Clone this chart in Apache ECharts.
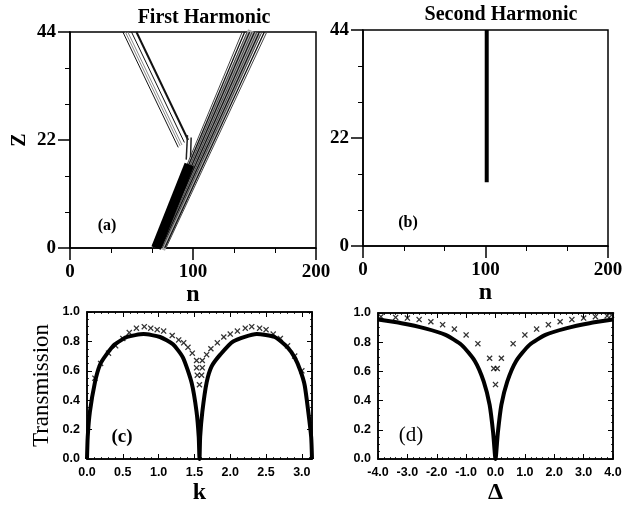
<!DOCTYPE html>
<html>
<head>
<meta charset="utf-8">
<script src="https://cdn.jsdelivr.net/npm/echarts@6/dist/echarts.min.js"></script>
<style>
  html, body { margin: 0; padding: 0; background: #fff; }
  #main { width: 637px; height: 506px; }
</style>
</head>
<body>
<div id="main"></div>
<script>
// (a) first harmonic: contour lines, [n, z] end points
var coreBeam = [[70, 0], [97, 17]];
var rightBeamBand = [[72, 0], [150, 44]];
var rightBeamLines = [
    [[67, 0], [140, 44]],
    [[68, 0], [142, 44]],
    [[69, 0], [144, 44]],
    [[70, 0], [146, 44]],
    [[71, 0], [148, 44]],
    [[72, 0], [150, 44]],
    [[73, 0], [152, 44]],
    [[74, 0], [154, 44]],
    [[75, 0], [156, 44]],
    [[77, 0], [158, 44]],
    [[78, 0], [160, 44]]
];
var leftBeamLines = [
    [[43, 44], [88, 20.5]],
    [[45, 44], [89.5, 20.8]],
    [[47, 44], [91, 21]],
    [[50, 44], [93, 21.5]],
    [[54, 44], [96, 22]]
];
var crossBits = [
    [[94.5, 18], [95.5, 23]],
    [[98, 18.5], [98.5, 22.5]]
];

// (b) second harmonic
var secondBeam = [[101, 13], [101, 44]];

// (c) transmission vs k
var kCurve = [0, 0.01, 0.04, 0.11, 0.18, 0.27, 0.39, 0.56, 0.79, 1.02, 1.20, 1.34, 1.46, 1.53, 1.56, 1.5708,
    1.58, 1.61, 1.67, 1.74, 1.86, 2.04, 2.37, 2.62, 2.80, 2.90, 2.98, 3.04, 3.09, 3.13, 3.1416];
var tCurveK = [0, 0.15, 0.32, 0.52, 0.64, 0.71, 0.78, 0.83, 0.85, 0.83, 0.78, 0.69, 0.52, 0.32, 0.15, 0,
    0.15, 0.32, 0.52, 0.63, 0.71, 0.80, 0.85, 0.83, 0.76, 0.69, 0.60, 0.50, 0.32, 0.15, 0];
var kCross = [0.11, 0.19, 0.30, 0.40, 0.50, 0.59, 0.69, 0.80, 0.89, 0.98, 1.07, 1.19, 1.28, 1.35, 1.41, 1.47,
    1.53, 1.53, 1.54, 1.57, 1.61, 1.61, 1.60, 1.67, 1.73, 1.82, 1.91, 2.00, 2.10, 2.21, 2.30, 2.41, 2.50,
    2.60, 2.70, 2.80, 2.90, 3.00];
var tCrossK = [0.55, 0.65, 0.72, 0.77, 0.82, 0.86, 0.89, 0.90, 0.89, 0.88, 0.87, 0.84, 0.81, 0.79, 0.76, 0.72,
    0.67, 0.62, 0.57, 0.505, 0.67, 0.62, 0.57, 0.71, 0.75, 0.79, 0.83, 0.85, 0.87, 0.89, 0.90, 0.89, 0.88,
    0.85, 0.82, 0.77, 0.70, 0.60];

// (d) transmission vs delta
var dCurve = [-4, -3.2, -2.4, -1.7, -1.15, -0.7, -0.4, -0.2, -0.08, 0, 0.08, 0.2, 0.4, 0.7, 1.15, 1.7, 2.4, 3.2, 4];
var tCurveD = [0.955, 0.93, 0.895, 0.85, 0.78, 0.67, 0.53, 0.37, 0.18, 0, 0.18, 0.37, 0.53, 0.67, 0.78, 0.85, 0.895, 0.93, 0.955];
var dCross = [-3.9, -3.4, -3.0, -2.6, -2.2, -1.8, -1.4, -1.0, -0.6, -0.2, -0.06, 0.06, 0, 0.2, 0.6, 1.0, 1.4, 1.8,
    2.2, 2.6, 3.0, 3.4, 3.8, 3.95];
var tCrossD = [0.975, 0.97, 0.965, 0.955, 0.94, 0.92, 0.89, 0.85, 0.79, 0.69, 0.62, 0.62, 0.51, 0.69, 0.79, 0.85,
    0.89, 0.92, 0.94, 0.955, 0.965, 0.975, 0.98, 0.985];

var chart = echarts.init(document.getElementById('main'));

var serif = 'Liberation Serif';
var sans = 'Liberation Sans';
var crossSymbol = 'path://M0,1.5L1.5,0L5,3.5L8.5,0L10,1.5L6.5,5L10,8.5L8.5,10L5,6.5L1.5,10L0,8.5L3.5,5Z';

function zip(xs, ys) {
    return xs.map(function (x, i) { return [x, ys[i]]; });
}

// axis for the two top panels: outward ticks, big serif labels
function topAxis(grid, min, max, step, name, isY) {
    return {
        gridIndex: grid, type: 'value', min: min, max: max, interval: step,
        name: name, nameLocation: 'middle', nameGap: isY ? 40 : 32,
        nameRotate: isY ? 90 : 0,
        nameTextStyle: {fontFamily: serif, fontWeight: 'bold', fontSize: isY ? 20 : 24, color: '#000'},
        axisLine: {show: true, onZero: false, lineStyle: {color: '#000', width: 1.5}},
        axisTick: {show: true, inside: false, length: 12, lineStyle: {color: '#000', width: 1.5}},
        minorTick: {show: true, splitNumber: 3, length: 5, lineStyle: {color: '#000', width: 1}},
        axisLabel: {margin: isY ? 14 : 15, fontFamily: serif, fontWeight: 'bold', fontSize: 19, color: '#000'},
        splitLine: {show: false}
    };
}

// axis for the bottom panels: inside ticks, small bold sans labels
function lowAxis(grid, min, max, step, pos, labels, minorSplit) {
    return {
        gridIndex: grid, type: 'value', min: min, max: max, interval: step, position: pos,
        axisLine: {show: true, onZero: false, lineStyle: {color: '#000', width: 1.5}},
        axisTick: {show: true, inside: true, length: 5, lineStyle: {color: '#000', width: 1}},
        minorTick: {show: true, splitNumber: minorSplit, length: 2, lineStyle: {color: '#000', width: 0.8}},
        axisLabel: {
            show: labels, margin: 7, fontFamily: sans, fontWeight: 'bold', fontSize: 12.5, color: '#000',
            formatter: function (v) {
                var r = v / step;
                return Math.abs(r - Math.round(r)) < 1e-6 ? v.toFixed(1) : '';
            }
        },
        splitLine: {show: false}
    };
}

function seg(data, width, color, x, y) {
    return {
        type: 'line', xAxisIndex: x, yAxisIndex: y, data: data, symbol: 'none',
        silent: true, lineStyle: {color: color, width: width}
    };
}

var series = [];
series.push(seg(rightBeamBand, 14, '#aaa', 0, 0));
rightBeamLines.forEach(function (l, i) {
    series.push(seg(l, i % 2 ? 1.3 : 1, i % 2 ? '#111' : '#444', 0, 0));
});
series.push(seg(coreBeam, 10, '#000', 0, 0));
leftBeamLines.forEach(function (l, i) {
    series.push(seg(l, i === 4 ? 2 : 1, i === 1 || i === 2 ? '#888' : '#111', 0, 0));
});
crossBits.forEach(function (l) {
    series.push(seg(l, 1.5, '#222', 0, 0));
});
series.push(seg(secondBeam, 4, '#000', 1, 1));

series.push({
    type: 'line', xAxisIndex: 2, yAxisIndex: 2, data: zip(kCurve, tCurveK), symbol: 'none',
    smooth: 0.2, lineStyle: {color: '#000', width: 4}
});
series.push({
    type: 'scatter', xAxisIndex: 2, yAxisIndex: 2, data: zip(kCross, tCrossK),
    symbol: crossSymbol, symbolSize: 6, itemStyle: {color: '#000'}
});
series.push({
    type: 'line', xAxisIndex: 3, yAxisIndex: 3, data: zip(dCurve, tCurveD), symbol: 'none',
    smooth: 0.2, lineStyle: {color: '#000', width: 4}
});
series.push({
    type: 'scatter', xAxisIndex: 3, yAxisIndex: 3, data: zip(dCross, tCrossD),
    symbol: crossSymbol, symbolSize: 6, itemStyle: {color: '#000'}
});

var kAxis = lowAxis(2, 0, Math.PI, 0.5, 'bottom', true, 5);
kAxis.name = 'k';
var dAxis = lowAxis(3, -4, 4, 1, 'bottom', true, 5);
dAxis.name = 'Δ';
[kAxis, dAxis].forEach(function (a) {
    a.nameLocation = 'middle';
    a.nameGap = 22;
    a.nameTextStyle = {fontFamily: serif, fontWeight: 'bold', fontSize: 24, color: '#000'};
});
var tAxis = lowAxis(2, 0, 1, 0.2, 'left', true, 4);
tAxis.name = 'Transmission';
tAxis.nameLocation = 'middle';
tAxis.nameGap = 34;
tAxis.nameRotate = 90;
tAxis.nameTextStyle = {fontFamily: serif, fontSize: 23, color: '#000'};

var boxed = {show: true, borderColor: '#000', borderWidth: 1.5, backgroundColor: 'transparent'};

function label(text, x, y, font) {
    return {type: 'text', x: x, y: y, style: {text: text, font: font, fill: '#000',
        align: 'center', verticalAlign: 'middle', textAlign: 'center', textVerticalAlign: 'middle'}};
}

var option = {
    backgroundColor: '#fff',
    animation: false,
    grid: [
        Object.assign({left: 70, top: 32, width: 246, height: 216}, boxed),
        Object.assign({left: 363, top: 30, width: 245, height: 216}, boxed),
        Object.assign({left: 87, top: 312, width: 225, height: 151}, boxed),
        Object.assign({left: 378, top: 313, width: 235, height: 150}, boxed)
    ],
    xAxis: [
        topAxis(0, 0, 200, 100, 'n', false),
        topAxis(1, 0, 200, 100, 'n', false),
        kAxis,
        dAxis,
        lowAxis(2, 0, Math.PI, 0.5, 'top', false, 5),
        lowAxis(3, -4, 4, 1, 'top', false, 5)
    ],
    yAxis: [
        topAxis(0, 0, 44, 22, 'Z', true),
        topAxis(1, 0, 44, 22, '', true),
        tAxis,
        lowAxis(3, 0, 1, 0.2, 'left', true, 4),
        lowAxis(2, 0, 1, 0.2, 'right', false, 4),
        lowAxis(3, 0, 1, 0.2, 'right', false, 4)
    ],
    graphic: [
        label('First Harmonic', 204, 18, 'bold 20px "Liberation Serif"'),
        label('Second Harmonic', 501, 15, 'bold 20px "Liberation Serif"'),
        label('(a)', 107, 226, 'bold 16px "Liberation Serif"'),
        label('(b)', 408, 223, 'bold 16px "Liberation Serif"'),
        label('(c)', 122, 437, 'bold 19px "Liberation Serif"'),
        label('(d)', 411, 435, '21px "Liberation Serif"')
    ],
    series: series
};

chart.setOption(option);
</script>
</body>
</html>
